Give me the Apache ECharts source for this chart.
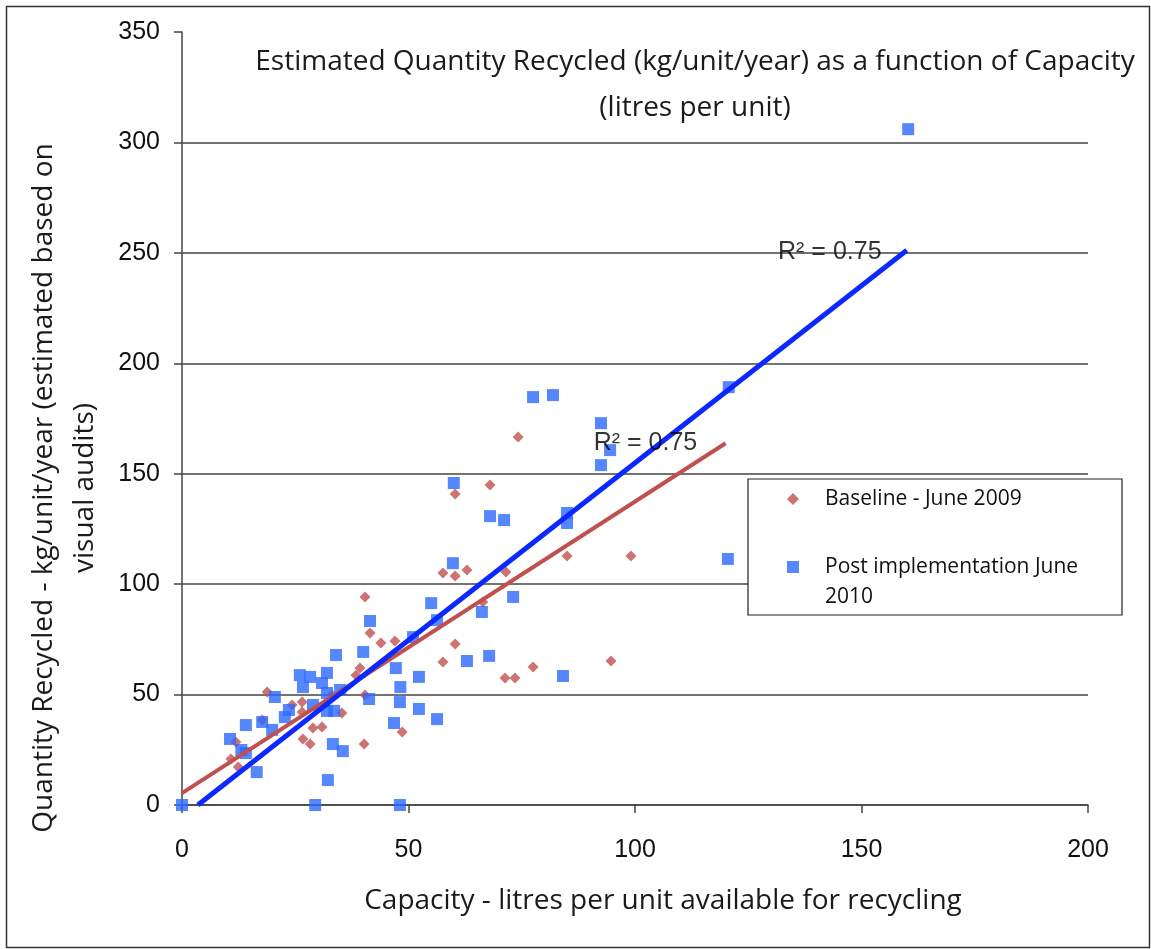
<!DOCTYPE html>
<html>
<head>
<meta charset="utf-8">
<script src="https://cdn.jsdelivr.net/npm/echarts@6/dist/echarts.min.js"></script>
<style>
  html, body { margin: 0; padding: 0; background: #fff; }
  #chart { width: 1151px; height: 949px; }
</style>
</head>
<body>
<div id="chart"></div>
<script>
// capacity (litres per unit) vs quantity recycled (kg/unit/year)
var baselinePoints = [
  [18.8, 51.2], [10.8, 20.8], [12.4, 17.2], [11.9, 28.5], [17.7, 38.5],
  [24.3, 45.3], [26.5, 46.6], [26.5, 42.1], [28.9, 34.9], [30.9, 35.3],
  [26.7, 29.9], [28.3, 27.6], [35.3, 41.6], [39.3, 62.0], [38.4, 58.8],
  [40.4, 49.8], [40.2, 27.6], [33.1, 49.8], [40.4, 94.2], [41.5, 77.9],
  [43.9, 73.3], [47.0, 74.2], [57.6, 64.7], [60.3, 72.9], [57.6, 105.0],
  [60.3, 103.7], [62.9, 106.4], [66.4, 91.9], [48.6, 33.0], [74.2, 166.6],
  [68.0, 144.9], [60.3, 140.8], [85.0, 112.7], [99.1, 112.7], [71.5, 105.5],
  [71.3, 57.5], [73.5, 57.5], [77.5, 62.5], [94.7, 65.2]
];
var postPoints = [
  [0, 0], [10.6, 29.9], [13.1, 24.9], [14.1, 23.5], [14.1, 36.2],
  [16.5, 14.9], [17.7, 37.6], [19.9, 34.0], [20.5, 48.9], [22.7, 39.8],
  [23.6, 43.0], [26.0, 58.8], [26.7, 53.4], [28.3, 58.0], [28.9, 45.3],
  [30.9, 55.2], [32.0, 59.8], [32.0, 50.7], [32.2, 11.3], [33.3, 27.6],
  [35.5, 24.4], [33.6, 42.6], [32.0, 42.6], [34.9, 52.1], [34.0, 67.9],
  [40.0, 69.3], [41.3, 48.0], [41.5, 83.3], [29.4, 0], [48.1, 0],
  [47.2, 62.0], [48.2, 53.4], [48.1, 46.6], [46.8, 37.1], [51.0, 76.0],
  [52.3, 58.0], [52.3, 43.5], [55.0, 91.4], [56.3, 83.7], [56.3, 38.9],
  [59.8, 109.5], [60.0, 145.8], [62.9, 65.2], [66.2, 87.4], [67.8, 67.5],
  [68.0, 130.8], [71.1, 129.0], [73.1, 94.2], [77.5, 184.7], [81.9, 185.6],
  [84.1, 58.4], [85.0, 132.2], [85.0, 127.7], [92.5, 172.9], [94.5, 160.7],
  [92.5, 153.9], [120.7, 189.2], [120.5, 111.4], [160.3, 306.0]
];
// linear trend line end points
var baselineTrend = [[0, 5.4], [120, 163.8]];
var postTrend = [[3.5, 0], [160, 251.2]];
// R² label anchor points and text
var baselineR2 = [[102.3, 163.9]];
var postR2 = [[143.0, 250.3]];
var r2Text = 'R² = 0.75';

var xTicks = [0, 50, 100, 150, 200];
var yTicks = [0, 50, 100, 150, 200, 250, 300, 350];

var seriesNames = ['Baseline - June 2009', 'Post implementation June\n2010'];

var chart = echarts.init(document.getElementById('chart'));

var labelFont = 'Liberation Sans, Arial, sans-serif';
var textFont = 'Open Sans, Noto Sans, sans-serif';

var option = {
  backgroundColor: '#fff',
  animation: false,
  title: {
    text: 'Estimated Quantity Recycled (kg/unit/year) as a function of Capacity\n(litres per unit)',
    left: 695,
    top: 39,
    padding: 0,
    textAlign: 'center',
    textStyle: {
      fontFamily: textFont,
      fontSize: 28,
      fontWeight: 'normal',
      color: '#1a1a1a',
      lineHeight: 46
    }
  },
  grid: { left: 182, right: 63, top: 32, bottom: 144 },
  legend: {
    orient: 'vertical',
    left: 748,
    top: 479,
    padding: [8, 37, 3, 39],
    itemGap: 11,
    itemWidth: 12,
    itemHeight: 12,
    backgroundColor: '#fff',
    borderColor: '#222',
    borderWidth: 1.2,
    borderRadius: 0,
    selectedMode: false,
    formatter: function (name) {
      // blank first line keeps the icon level with the first text line
      return name === seriesNames[1] ? '\n' + name : name;
    },
    textStyle: {
      fontFamily: textFont,
      fontSize: 21,
      color: '#111',
      lineHeight: 24,
      width: 260,
      padding: [0, 0, 0, 21]
    },
    data: [
      { name: seriesNames[0], icon: 'diamond' },
      { name: seriesNames[1], icon: 'rect', textStyle: { lineHeight: 30 } }
    ]
  },
  xAxis: {
    type: 'value',
    min: xTicks[0],
    max: xTicks[xTicks.length - 1],
    interval: 50,
    name: 'Capacity - litres per unit available for recycling',
    nameLocation: 'middle',
    nameGap: 82,
    nameTextStyle: {
      fontFamily: textFont,
      fontSize: 28,
      color: '#1a1a1a',
      padding: [0, 0, 0, 56]
    },
    axisLine: { show: true, onZero: false, lineStyle: { color: '#444', width: 1.5 } },
    axisTick: { show: true, length: 8, lineStyle: { color: '#444', width: 1.5 } },
    splitLine: { show: false },
    axisLabel: {
      fontFamily: labelFont,
      fontSize: 25,
      color: '#111',
      margin: 33
    }
  },
  yAxis: {
    type: 'value',
    min: yTicks[0],
    max: yTicks[yTicks.length - 1],
    interval: 50,
    axisLine: { show: true, lineStyle: { color: '#444', width: 1.5 } },
    axisTick: { show: true, length: 8, lineStyle: { color: '#444', width: 1.5 } },
    splitLine: {
      show: true,
      lineStyle: {
        color: ['#444', '#444', '#444', '#444', '#444', '#444', '#444', 'rgba(0,0,0,0)'],
        width: 1.5
      }
    },
    axisLabel: {
      fontFamily: labelFont,
      fontSize: 25,
      color: '#111',
      margin: 22
    }
  },
  graphic: [
    {
      type: 'rect',
      left: 4, top: 4, z: -10,
      shape: { width: 1143, height: 941 },
      style: { fill: 'none', stroke: '#333', lineWidth: 1.5 }
    },
    {
      // y axis title, two centred lines
      type: 'text',
      x: 65, y: 488, rotation: Math.PI / 2,
      style: {
        text: 'Quantity Recycled - kg/unit/year (estimated based on\nvisual audits)',
        font: '28px ' + textFont,
        lineHeight: 41,
        fill: '#1a1a1a',
        align: 'center',
        verticalAlign: 'middle'
      }
    }
  ],
  series: [
    {
      name: seriesNames[0],
      type: 'scatter',
      symbol: 'diamond',
      symbolSize: 11,
      itemStyle: { color: '#C0504D' },
      data: baselinePoints,
      z: 2
    },
    {
      name: seriesNames[1],
      type: 'scatter',
      symbol: 'rect',
      symbolSize: 12,
      itemStyle: { color: '#2C69FF' },
      data: postPoints,
      z: 3
    },
    {
      name: 'Baseline trend',
      type: 'line',
      data: baselineTrend,
      showSymbol: false,
      symbol: 'none',
      lineStyle: { color: '#C0504D', width: 4 },
      z: 4
    },
    {
      name: 'Post trend',
      type: 'line',
      data: postTrend,
      showSymbol: false,
      symbol: 'none',
      lineStyle: { color: '#0A28FF', width: 5 },
      z: 5
    },
    {
      name: 'R2 labels',
      type: 'scatter',
      silent: true,
      symbolSize: 1,
      itemStyle: { color: 'rgba(0,0,0,0)' },
      data: baselineR2.concat(postR2),
      label: {
        show: true,
        position: 'inside',
        formatter: function () { return r2Text; },
        fontFamily: labelFont,
        fontSize: 25,
        color: '#000'
      },
      z: 6
    }
  ]
};

chart.setOption(option);
</script>
</body>
</html>
